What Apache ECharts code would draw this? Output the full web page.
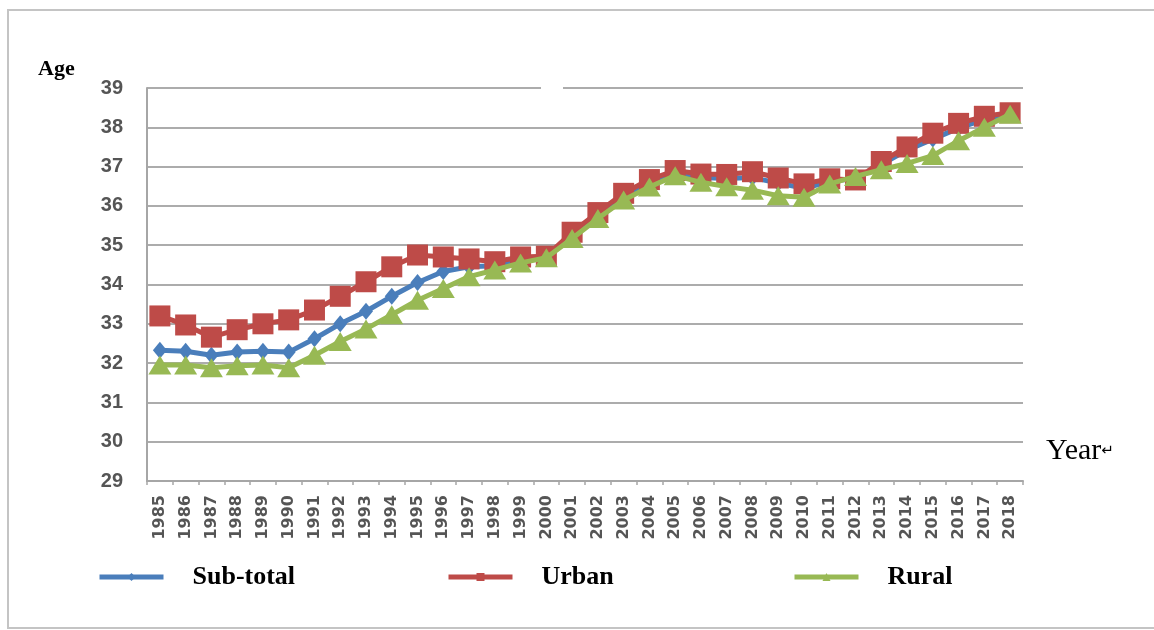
<!DOCTYPE html>
<html>
<head>
<meta charset="utf-8">
<title>Average age by year</title>
<script src="https://cdn.jsdelivr.net/npm/echarts@6/dist/echarts.min.js"></script>
<style>
  html, body { margin: 0; padding: 0; background: #ffffff; }
  #chart { width: 1154px; height: 630px; }
</style>
</head>
<body>
<div id="chart"></div>
<script>
// Years on the category axis
const years = ['1985','1986','1987','1988','1989','1990','1991','1992','1993','1994',
  '1995','1996','1997','1998','1999','2000','2001','2002','2003','2004',
  '2005','2006','2007','2008','2009','2010','2011','2012','2013','2014',
  '2015','2016','2017','2018'];

// Average age per year
const subTotal = [32.33, 32.30, 32.20, 32.28, 32.30, 32.28, 32.62, 33.00, 33.32, 33.70,
  34.05, 34.33, 34.45, 34.48, 34.62, 34.70, 35.27, 35.78, 36.27, 36.60,
  36.85, 36.72, 36.70, 36.72, 36.58, 36.45, 36.62, 36.70, 37.05, 37.42,
  37.70, 37.98, 38.20, 38.36];
const urban = [33.20, 32.97, 32.66, 32.85, 33.00, 33.10, 33.35, 33.70, 34.07, 34.45,
  34.75, 34.70, 34.65, 34.58, 34.70, 34.72, 35.33, 35.83, 36.32, 36.67,
  36.90, 36.81, 36.80, 36.87, 36.71, 36.56, 36.69, 36.66, 37.13, 37.50,
  37.85, 38.10, 38.28, 38.37];
const rural = [31.95, 31.95, 31.88, 31.93, 31.95, 31.88, 32.20, 32.55, 32.87, 33.23,
  33.60, 33.90, 34.20, 34.37, 34.55, 34.68, 35.17, 35.68, 36.15, 36.48,
  36.77, 36.60, 36.49, 36.40, 36.26, 36.22, 36.56, 36.75, 36.92, 37.08,
  37.28, 37.66, 38.00, 38.33];

// Value axis ticks
const yMin = 29, yMax = 39, yStep = 1;

const seriesNames = ['Sub-total', 'Urban', 'Rural'];
const colors = ['#4a7ebb', '#be4b48', '#98b954'];

const chart = echarts.init(document.getElementById('chart'), null, { renderer: 'canvas' });

const legendText = {
  fontFamily: '"Liberation Serif", "Times New Roman", serif',
  fontWeight: 'bold',
  fontSize: 26,
  color: '#000000',
  padding: [0, 0, 0, 24]
};
function legendFor(name, left) {
  return {
    data: [name],
    left: left,
    top: 559,
    itemWidth: 64,
    itemHeight: 10,
    lineStyle: { width: 5 },
    textStyle: legendText,
    selectedMode: false
  };
}

const option = {
  animation: false,
  backgroundColor: '#ffffff',
  color: colors,
  grid: { left: 147, right: 131, top: 88, bottom: 149, containLabel: false },
  legend: [
    legendFor(seriesNames[0], 92),
    legendFor(seriesNames[1], 441),
    legendFor(seriesNames[2], 787)
  ],
  xAxis: {
    type: 'category',
    data: years,
    boundaryGap: true,
    axisLine: { lineStyle: { color: '#a6a6a6', width: 2 } },
    axisTick: { show: true, alignWithLabel: false, length: 4, lineStyle: { color: '#a6a6a6', width: 1.5 } },
    axisLabel: {
      interval: 0,
      rotate: 90,
      margin: 14,
      fontFamily: '"DejaVu Sans", sans-serif',
      fontWeight: 'bold',
      fontSize: 16,
      color: '#555555'
    },
    splitLine: { show: false }
  },
  yAxis: {
    type: 'value',
    min: yMin,
    max: yMax,
    interval: yStep,
    axisLine: { show: true, lineStyle: { color: '#a6a6a6', width: 2 } },
    axisTick: { show: false },
    axisLabel: {
      margin: 24,
      fontFamily: '"Liberation Sans", Arial, sans-serif',
      fontWeight: 'bold',
      fontSize: 20,
      color: '#555555'
    },
    splitLine: { show: true, lineStyle: { color: '#acacac', width: 2 } }
  },
  series: [
    {
      name: seriesNames[0],
      type: 'line',
      data: subTotal,
      symbol: 'diamond',
      symbolSize: [14, 17],
      showAllSymbol: true,
      lineStyle: { width: 5, color: colors[0] },
      itemStyle: { color: colors[0] },
      z: 2
    },
    {
      name: seriesNames[1],
      type: 'line',
      data: urban,
      symbol: 'rect',
      symbolSize: 21,
      showAllSymbol: true,
      lineStyle: { width: 5, color: colors[1] },
      itemStyle: { color: colors[1] },
      z: 3
    },
    {
      name: seriesNames[2],
      type: 'line',
      data: rural,
      symbol: 'triangle',
      symbolSize: [23, 19],
      showAllSymbol: true,
      lineStyle: { width: 5, color: colors[2] },
      itemStyle: { color: colors[2] },
      z: 4
    }
  ],
  graphic: [
    {
      type: 'polyline',
      silent: true,
      z: -10,
      shape: { points: [[1154, 10], [8, 10], [8, 628], [1154, 628]] },
      style: { fill: 'none', stroke: '#c4c4c4', lineWidth: 2 }
    },
    {
      type: 'rect',
      silent: true,
      z: 100,
      shape: { x: 541, y: 83, width: 22, height: 10 },
      style: { fill: '#ffffff' }
    },
    {
      type: 'text',
      silent: true,
      left: 38,
      top: 58,
      style: {
        text: 'Age',
        fontFamily: '"Liberation Serif", "Times New Roman", serif',
        fontWeight: 'bold',
        fontSize: 22,
        fill: '#000000'
      }
    },
    {
      type: 'text',
      silent: true,
      left: 1046,
      top: 436,
      style: {
        text: '{y|Year}{r|↵}',
        rich: {
          y: {
            fontFamily: '"Liberation Serif", "Times New Roman", serif',
            fontSize: 30,
            color: '#1e1e1e'
          },
          r: {
            fontFamily: '"DejaVu Sans", sans-serif',
            fontSize: 15,
            color: '#8fb4e3'
          }
        }
      }
    }
  ]
};

chart.setOption(option);
</script>
</body>
</html>
